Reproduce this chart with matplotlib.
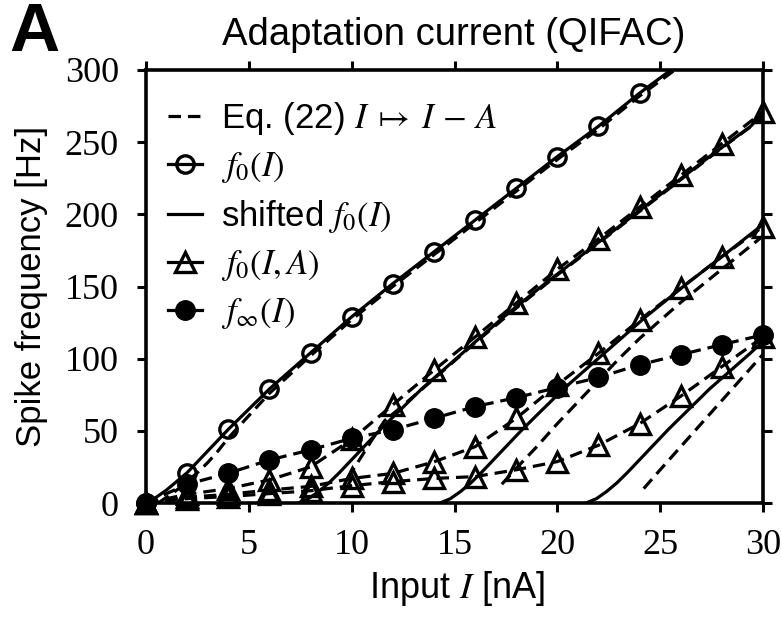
import matplotlib
matplotlib.use('Agg')
import matplotlib.pyplot as plt
from matplotlib.lines import Line2D

plt.rcParams['mathtext.fontset'] = 'stix'
plt.rcParams['font.family'] = ['Liberation Sans', 'DejaVu Sans']
plt.rcParams['lines.scale_dashes'] = False

# ---------------- data ----------------
I_grid = [0, 2, 4, 6, 8, 10, 12, 14, 16, 18, 20, 22, 24, 26, 28, 30]

# f0(I): open circles (only those inside the plotted range)
I_f0 = [0, 2, 4, 6, 8, 10, 12, 14, 16, 18, 20, 22, 24]
f0_circ = [0, 21, 51, 79, 104, 129, 152, 174, 196, 218, 240, 261, 284]

# f0(I, A): triangles, three adaptation strengths
fA_upper = [0, 6, 10, 16, 25, 44, 68, 92, 115, 138.5, 162, 183, 205, 227, 249, 271]
fA_middle = [0, 4, 6, 9, 11.5, 17, 20.5, 28.5, 39, 58.7, 82, 103.7, 126.8, 148.8, 170.7, 191.5]
fA_lower = [0, 3, 4.5, 6.5, 8.5, 12, 14.8, 17, 18.3, 23, 28.7, 40, 55, 74, 94.5, 115]

# f_inf(I): filled circles
f_inf = [0, 13, 20.6, 29.8, 36.8, 44.8, 50.7, 58.7, 66.8, 73, 80, 87, 95.8, 102.8, 109.7, 116.5]

# solid lines: f0 and shifted f0(I)
S0_I = [0, 0.5, 1, 1.5, 2, 3, 4, 6, 8, 10, 12, 14, 16, 18, 20, 22, 24, 26]
S0_Y = [0, 4, 9, 15, 21, 36, 51, 79, 104, 129, 152, 174, 196, 218, 240, 261, 284, 305]
S1_I = [7.4, 7.9, 8.4, 8.9, 9.4, 10.4, 11.4, 13.4, 15.4, 17.4, 19.4, 21.4, 23.4, 25.4, 27.4, 29.4, 30]
S1_Y = [0, 3, 8, 14, 21, 36, 51, 79, 104, 129, 152, 174, 196, 218, 240, 261, 270]
S2_I = [14.3, 14.8, 15.3, 15.8, 16.3, 17.3, 18.3, 20.3, 22.3, 24.3, 26.3, 28.3, 30]
S2_Y = [0, 3, 8, 14, 21, 36, 51, 79, 104, 129, 152, 174, 193]
S3_I = [21.4, 21.9, 22.4, 22.9, 23.4, 24.4, 25.4, 27.4, 29.4, 30]
S3_Y = [0, 3, 8, 14, 21, 36, 51, 79, 104, 112]

# dashed lines: Eq. (22)  I -> I - A
E0_I = [0.6, 1, 1.5, 2, 2.5, 3, 3.5, 4, 6, 8, 10, 12, 14, 16, 18, 20, 22, 24, 26]
E0_Y = [0, 4, 9, 15, 21, 28, 36, 45, 76, 102, 127, 150, 172, 194, 216, 238, 259, 282, 303]
E1_I = [9.8, 10.2, 10.6, 11.0, 11.6, 12.2, 14, 16, 18, 20, 22, 24, 26, 28, 30]
E1_Y = [17, 26, 35, 44, 57, 64, 86, 111, 135, 158, 180, 202, 224, 246, 267]
E2_I = [17.3, 18, 19, 20, 21, 22, 23, 24, 26, 28, 30]
E2_Y = [13, 24, 39, 55, 70, 85, 100, 114, 139, 162, 185]
E3_I = [24.2, 25, 26, 27, 28, 29, 30]
E3_Y = [10, 23, 39, 55, 71, 87, 103]

x_ticks = [0, 5, 10, 15, 20, 25, 30]
y_ticks = [0, 50, 100, 150, 200, 250, 300]

# ---------------- drawing ----------------
W, H = 782, 617
fig = plt.figure(figsize=(W / 100, H / 100), dpi=100)
ax = fig.add_axes([146 / W, (H - 503) / H, (763 - 146) / W, (503 - 70) / H])

LW = 2.3
DASH = (0, (9, 5))
k = 'black'
MS_O, MS_T, MS_F, MEW = 12.5, 15, 14, 2.4

for xs, ys in [(S0_I, S0_Y), (S1_I, S1_Y), (S2_I, S2_Y), (S3_I, S3_Y)]:
    ax.plot(xs, ys, color=k, lw=LW, ls='-', zorder=3)
for xs, ys in [(E0_I, E0_Y), (E1_I, E1_Y), (E2_I, E2_Y), (E3_I, E3_Y)]:
    ax.plot(xs, ys, color=k, lw=LW, ls=DASH, zorder=3)

# triangles connected by dashed lines
for ys in [fA_upper, fA_middle, fA_lower]:
    ax.plot(I_grid, ys, color=k, lw=LW, ls=DASH, zorder=4)
    ax.plot(I_grid, ys, ls='none', marker='^', ms=MS_T, mfc='none', mec=k, mew=MEW,
            zorder=5, clip_on=False)

# f_inf filled circles with dashed line
ax.plot(I_grid, f_inf, color=k, lw=LW, ls=DASH, zorder=4)
ax.plot(I_grid, f_inf, ls='none', marker='o', ms=MS_F, mfc=k, mec=k, zorder=6, clip_on=False)

# f0 open circles
ax.plot(I_f0, f0_circ, ls='none', marker='o', ms=MS_O, mfc='none', mec=k, mew=MEW,
        zorder=5, clip_on=False)

ax.set_xlim(0, 30)
ax.set_ylim(0, 300)
ax.set_xticks(x_ticks)
ax.set_yticks(y_ticks)
ax.set_xticklabels([str(v) for v in x_ticks])
ax.set_yticklabels([str(v) for v in y_ticks])
for s in ax.spines.values():
    s.set_linewidth(2.6)
ax.tick_params(direction='out', length=6.5, width=2.2, top=True, right=True,
               labeltop=False, labelright=False)
ax.tick_params(axis='y', pad=13)
ax.tick_params(axis='x', pad=12)
for lab in ax.get_xticklabels() + ax.get_yticklabels():
    lab.set_fontfamily('Liberation Serif')
    lab.set_fontsize(26)

handles = [
    Line2D([], [], color=k, lw=LW, ls=DASH),
    Line2D([], [], color=k, lw=LW, marker='o', ms=MS_O, mfc='none', mew=MEW),
    Line2D([], [], color=k, lw=LW),
    Line2D([], [], color=k, lw=LW, marker='^', ms=MS_T, mfc='none', mew=MEW),
    Line2D([], [], color=k, lw=LW, marker='o', ms=MS_F, mfc=k),
]
labels = [r'Eq. (22) $I \;\mapsto\; I\, -\, A$', r'$f_0(I)$', r'shifted $f_0(I)$',
          r'$f_0(I, A)$', r'$f_\infty(I)$']
ax.legend(handles, labels, loc='upper left', bbox_to_anchor=(0.035, 0.93),
          frameon=False, fontsize=25, handlelength=1.0, handletextpad=0.55,
          labelspacing=0.37, borderpad=0, borderaxespad=0)

fig.text(454 / W, 1 - 35 / H, 'Adaptation current (QIFAC)', ha='center', va='center', fontsize=27.5)
fig.text(9 / W, 1 - 33 / H, 'A', ha='left', va='center', fontsize=50, fontweight='bold')
fig.text(32 / W, 1 - 286 / H, 'Spike frequency [Hz]', rotation=90, ha='center', va='center', fontsize=25)
fig.text(457 / W, 1 - 589 / H, r'Input $I$ [nA]', ha='center', va='center', fontsize=26)

fig.savefig('out.png', dpi=100)
